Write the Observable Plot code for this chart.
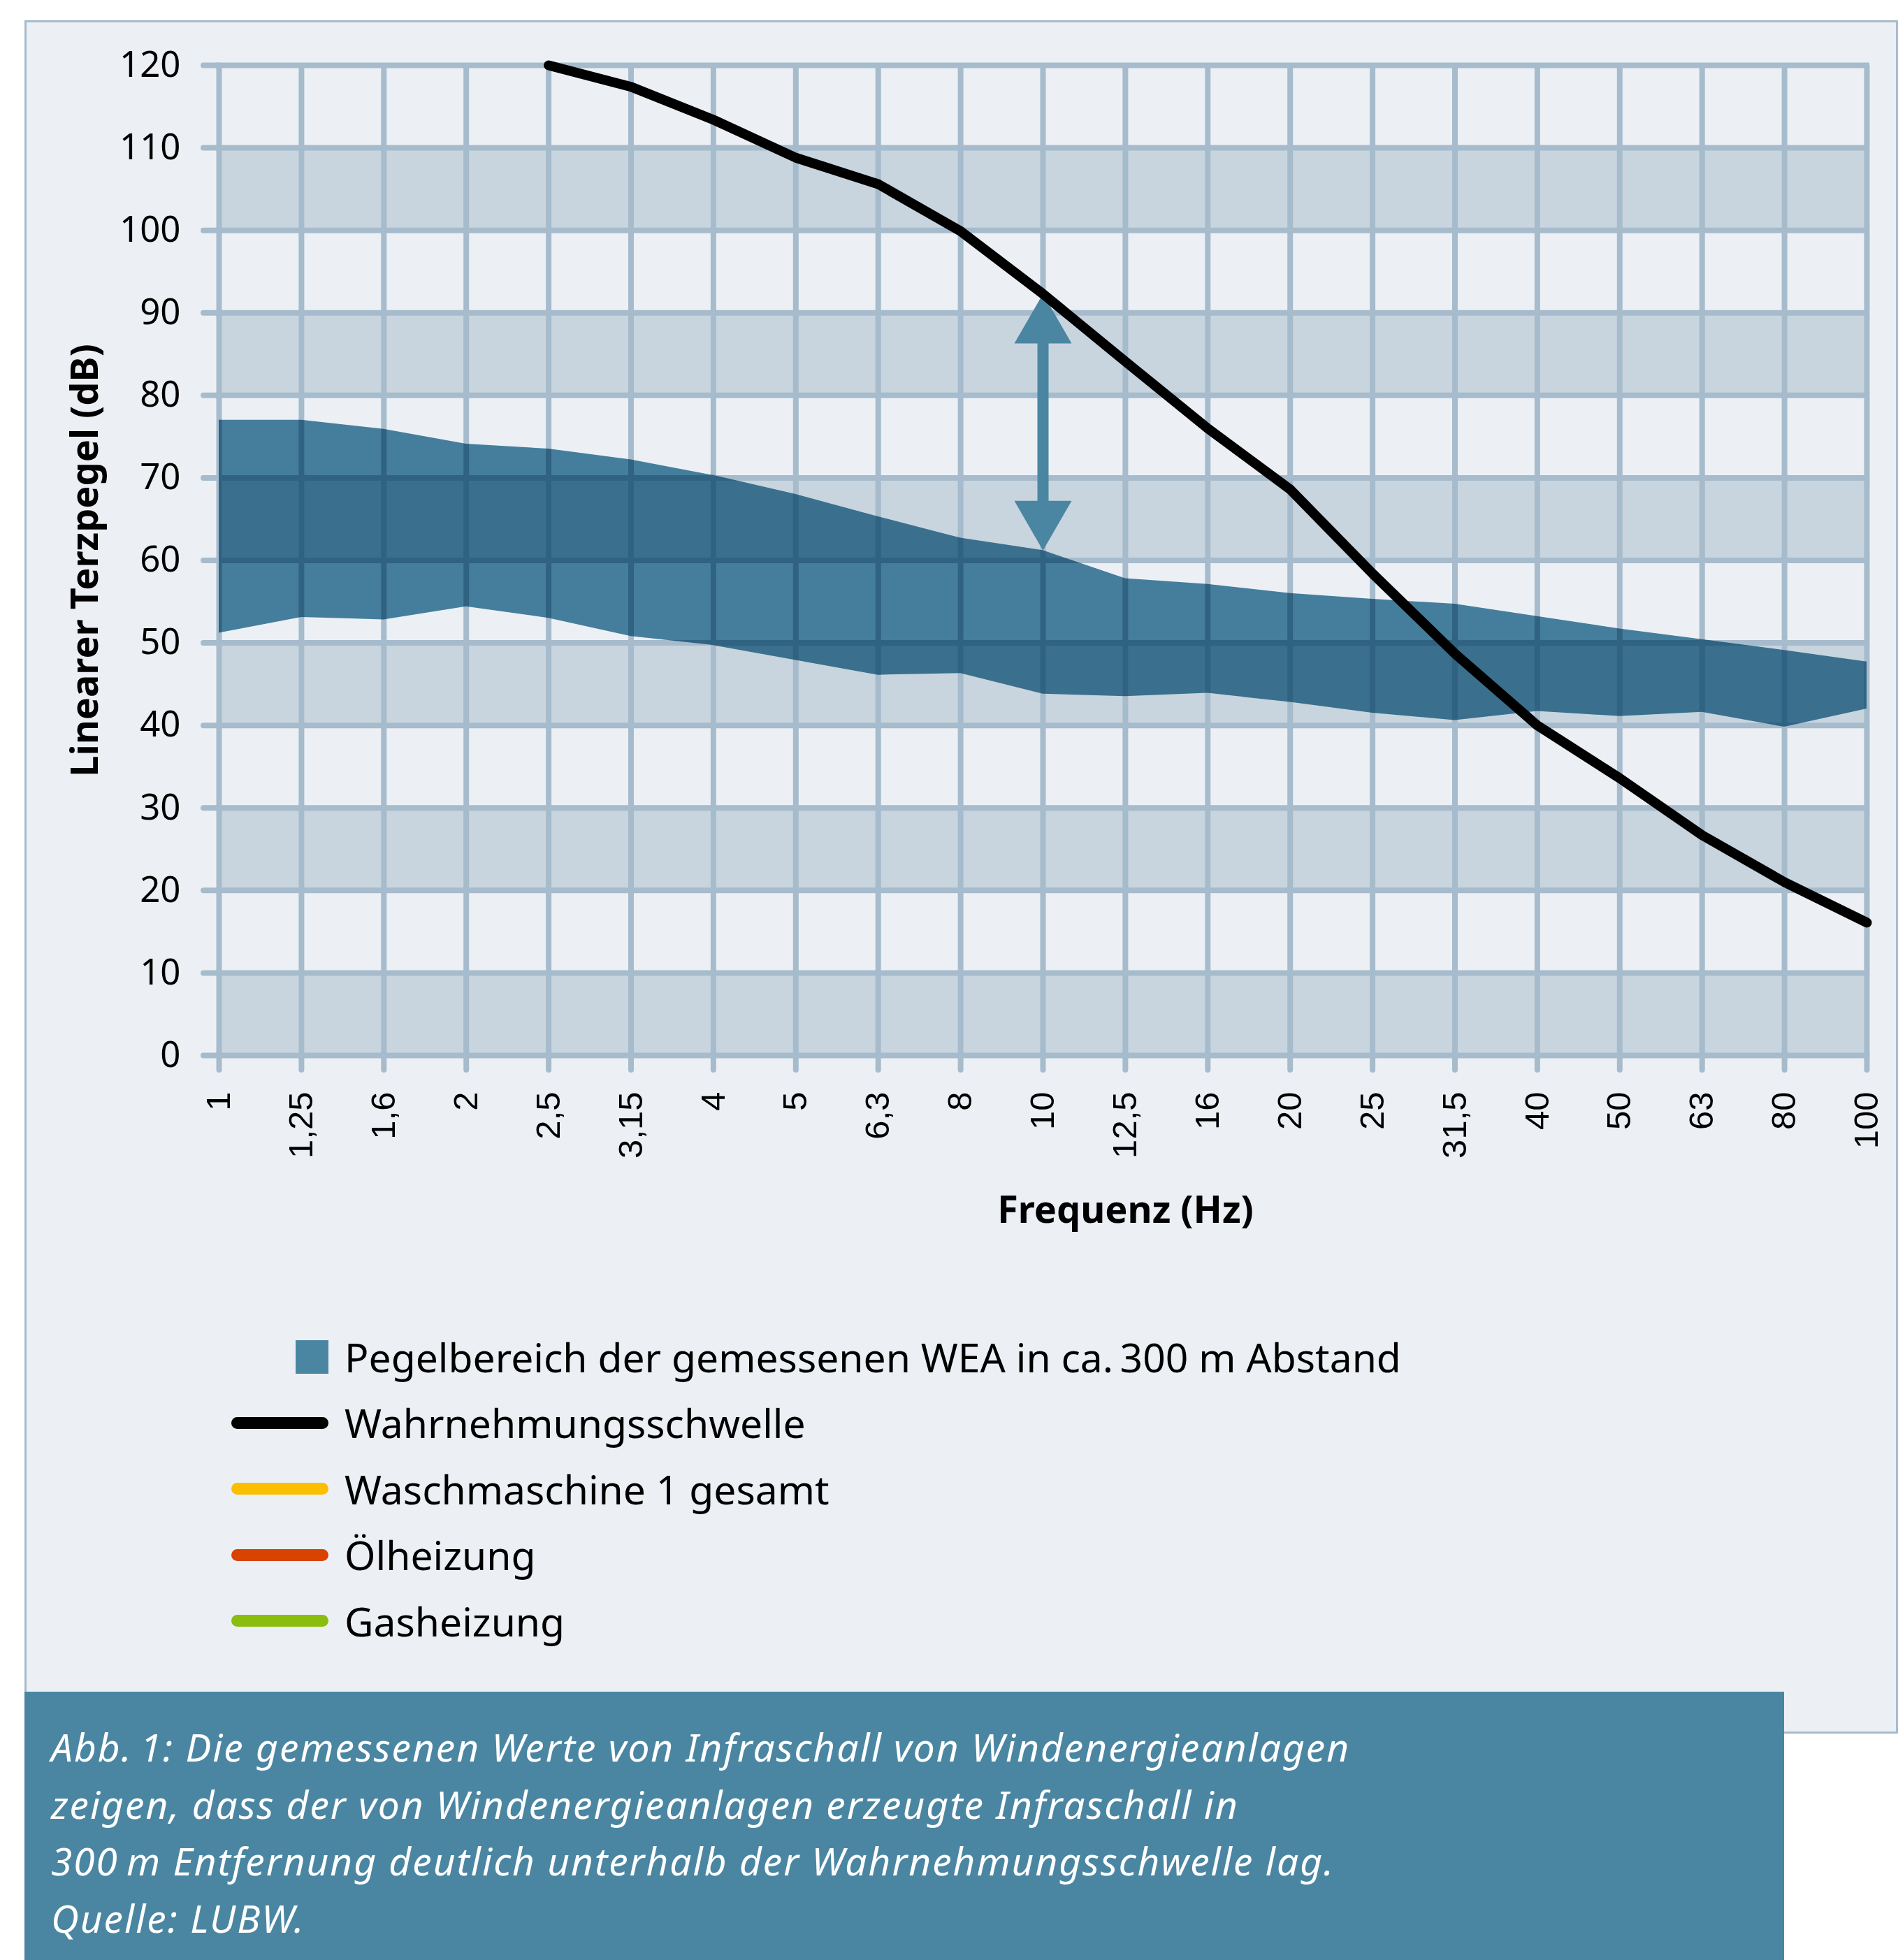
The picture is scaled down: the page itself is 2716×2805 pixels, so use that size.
<!DOCTYPE html>
<html>
<head>
<meta charset="utf-8">
<script src="https://cdn.jsdelivr.net/npm/d3@7"></script>
<script src="https://cdn.jsdelivr.net/npm/@observablehq/plot@0.6"></script>
<style>
  html, body { margin: 0; padding: 0; background: #ffffff; }
  body { width: 2716px; height: 2805px; position: relative; overflow: hidden; font-family: "Noto Sans", sans-serif; }
  #panel { position: absolute; left: 35px; top: 29px; width: 2681px; height: 2452px; box-sizing: border-box;
           background: #ECF0F5; border: 3px solid #A6BBCC; }
  #chart { position: absolute; left: 0; top: 0; }
  #legend { position: absolute; left: 0; top: 1895px; }
  .row { position: relative; height: 94.4px; display: flex; align-items: center; }
  .sw { position: absolute; left: 330px; width: 140px; height: 48px; display: flex; align-items: center; justify-content: flex-end; }
  .sw .sq { width: 47px; height: 48px; }
  .sw .ln { width: 139px; height: 17px; border-radius: 8.5px; }
  .lt { position: absolute; left: 493px; font-size: 57px; line-height: 94.4px; color: #000; white-space: nowrap; }
  #caption { position: absolute; left: 35px; top: 2421px; width: 2518px; height: 384px; box-sizing: border-box;
             background: #4A86A2; color: #ffffff; font-style: italic; font-size: 55px; line-height: 81.6px; letter-spacing: 2px;
             padding-left: 38px; padding-top: 38px; white-space: nowrap; }
  g[aria-label="axis-title"] text { letter-spacing: 3.2px; }
</style>
</head>
<body>
<div id="panel"></div>
<div id="chart"></div>
<div id="legend"></div>
<div id="caption"></div>
<script>
// ---- data ----
const freqs = [1, 1.25, 1.6, 2, 2.5, 3.15, 4, 5, 6.3, 8, 10, 12.5, 16, 20, 25, 31.5, 40, 50, 63, 80, 100];
const weaUpper = [77.0, 77.0, 75.9, 74.1, 73.5, 72.2, 70.3, 68.0, 65.3, 62.7, 61.2, 57.8, 57.1, 56.0, 55.3, 54.7, 53.2, 51.7, 50.4, 49.1, 47.7];
const weaLower = [51.2, 53.1, 52.8, 54.4, 53.0, 50.8, 49.7, 47.9, 46.1, 46.3, 43.8, 43.5, 43.9, 42.8, 41.5, 40.6, 41.7, 41.1, 41.6, 39.8, 42.0];
const threshold = [null, null, null, null, 120, 117.4, 113.4, 108.8, 105.6, 99.9, 92.3, 84.1, 76.0, 68.6, 58.4, 48.7, 40.0, 33.6, 26.7, 21.0, 16.1];
const yTicks = [0, 10, 20, 30, 40, 50, 60, 70, 80, 90, 100, 110, 120];
const arrowFreq = 10;
const yTitle = "Linearer Terzpegel (dB)";
const xTitle = "Frequenz (Hz)";
const legendLabels = ["Pegelbereich der gemessenen WEA in ca.\u2009300 m Abstand", "Wahrnehmungsschwelle", "Waschmaschine 1 gesamt", "Ölheizung", "Gasheizung"];
const captionLines = [
  "Abb.\u20091: Die gemessenen Werte von Infraschall von Windenergieanlagen",
  "zeigen, dass der von Windenergieanlagen erzeugte Infraschall in",
  "300\u2009m Entfernung deutlich unterhalb der Wahrnehmungsschwelle lag.",
  "Quelle: LUBW."
];

// ---- styles ----
const GRID = "#A6BBCC";
const DARKBAND = "#C8D5DF";
const TEAL = "#4A86A2";
const legendColors = [TEAL, "#000000", "#FCBF00", "#D84300", "#8ABD0E"];
const legendKinds = ["square", "line", "line", "line", "line"];

const rows = freqs.map((f, i) => ({f, lo: weaLower[i], hi: weaUpper[i], t: threshold[i]}));
const darkBands = [];
for (let i = 0; i + 1 < yTicks.length; i += 2) darkBands.push({y1: yTicks[i], y2: yTicks[i + 1]});
const ai = freqs.indexOf(arrowFreq);
const arrowData = [{f: freqs[ai], from: weaUpper[ai], to: threshold[ai]}];

const s3 = Math.sqrt(3);
const triUp = {draw(ctx, size) { const y = -Math.sqrt(size / (s3 * 3)); ctx.moveTo(0, y * 2); ctx.lineTo(-s3 * y, -y); ctx.lineTo(s3 * y, -y); ctx.closePath(); }};
const triDown = {draw(ctx, size) { const y = Math.sqrt(size / (s3 * 3)); ctx.moveTo(0, y * 2); ctx.lineTo(-s3 * y, -y); ctx.lineTo(s3 * y, -y); ctx.closePath(); }};

const fmt = d => String(d).replace(".", ",");

const chart = Plot.plot({
  width: 2716,
  height: 1800,
  marginLeft: 313,
  marginRight: 45,
  marginTop: 93,
  marginBottom: 290,
  x: {type: "point", domain: freqs, padding: 0, round: false},
  y: {domain: [0, 120]},
  style: {background: "transparent", fontFamily: "'Noto Sans', sans-serif", overflow: "visible", color: "#000"},
  marks: [
    Plot.rect(darkBands, {y1: "y1", y2: "y2", fill: DARKBAND}),
    Plot.ruleX(freqs, {x: d => d, y1: 0, y2: 120, stroke: GRID, strokeWidth: 8}),
    Plot.ruleY(yTicks, {y: d => d, stroke: GRID, strokeWidth: 8, strokeLinecap: "square"}),
    Plot.axisY({ticks: yTicks, tickSize: 22, tickPadding: 33, stroke: GRID, strokeWidth: 8, strokeLinecap: "round",
                strokeOpacity: 1, fill: "#000", fontSize: 51, label: null}),
    Plot.axisX({ticks: freqs, tickSize: 21, tickPadding: 31, tickRotate: -90, tickFormat: fmt, stroke: GRID, strokeWidth: 8,
                strokeLinecap: "round", strokeOpacity: 1, fill: "#000", fontSize: 49, fontFamily: "'Liberation Sans', Arial, sans-serif", label: null}),
    Plot.areaY(rows, {x: "f", y1: "lo", y2: "hi", fill: TEAL, mixBlendMode: "multiply"}),
    Plot.ruleX(arrowData, {x: "f", y1: "to", y2: "from", stroke: TEAL, strokeWidth: 16, insetTop: 60, insetBottom: 60}),
    Plot.dot(arrowData, {x: "f", y: "to", dy: 47.3, r: 30.44, symbol: triUp, fill: TEAL, stroke: "none"}),
    Plot.dot(arrowData, {x: "f", y: "from", dy: -47.3, r: 30.44, symbol: triDown, fill: TEAL, stroke: "none"}),
    Plot.line(rows, {x: "f", y: "t", stroke: "#000", strokeWidth: 14, strokeLinecap: "round", strokeLinejoin: "round"}),
    Plot.text([yTitle], {frameAnchor: "left", dx: -191, rotate: -90, textAnchor: "middle", lineAnchor: "middle",
                         fontSize: 54, fontWeight: "bold", fill: "#000", ariaLabel: "axis-title"}),
    Plot.text([xTitle], {frameAnchor: "bottom", dx: 118, dy: 222, textAnchor: "middle", lineAnchor: "middle",
                         fontSize: 54, fontWeight: "bold", fill: "#000", ariaLabel: "axis-title"})
  ]
});
document.getElementById("chart").appendChild(chart);

// legend
const legend = document.getElementById("legend");
legendLabels.forEach((label, i) => {
  const row = document.createElement("div");
  row.className = "row";
  const sw = document.createElement("div");
  sw.className = "sw";
  const mark = document.createElement("div");
  mark.className = legendKinds[i] === "square" ? "sq" : "ln";
  mark.style.background = legendColors[i];
  sw.appendChild(mark);
  const t = document.createElement("div");
  t.className = "lt";
  t.textContent = label;
  row.appendChild(sw);
  row.appendChild(t);
  legend.appendChild(row);
});

// caption
const cap = document.getElementById("caption");
captionLines.forEach(line => {
  const d = document.createElement("div");
  d.textContent = line;
  cap.appendChild(d);
});
</script>
</body>
</html>
